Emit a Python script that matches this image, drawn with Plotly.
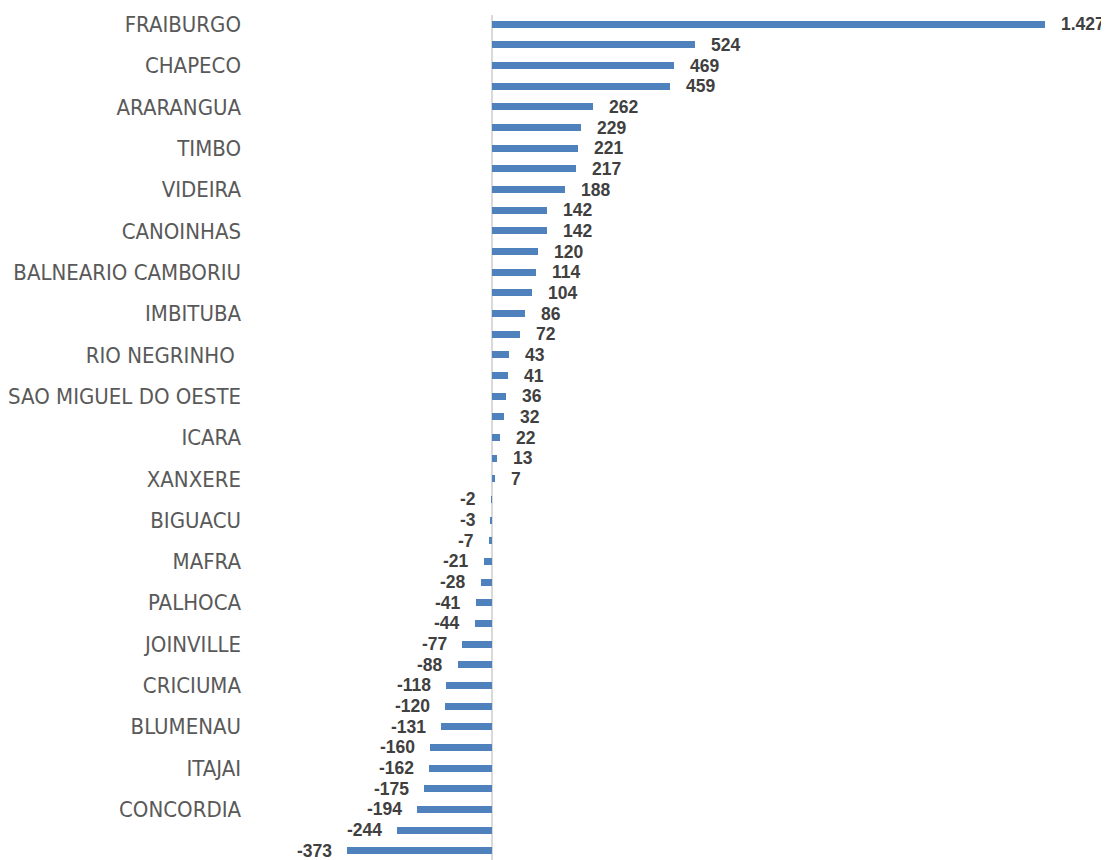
import plotly.graph_objects as go

# Values for each bar, top to bottom
values = [1427, 524, 469, 459, 262, 229, 221, 217, 188, 142, 142, 120, 114, 104,
          86, 72, 43, 41, 36, 32, 22, 13, 7, -2, -3, -7, -21, -28, -41, -44,
          -77, -88, -118, -120, -131, -160, -162, -175, -194, -244, -373]

# Category labels visible on the axis (every other bar is labelled)
shown_labels = ["FRAIBURGO", "CHAPECO", "ARARANGUA", "TIMBO", "VIDEIRA",
                "CANOINHAS", "BALNEARIO CAMBORIU", "IMBITUBA", "RIO NEGRINHO ",
                "SAO MIGUEL DO OESTE", "ICARA", "XANXERE", "BIGUACU", "MAFRA",
                "PALHOCA", "JOINVILLE", "CRICIUMA", "BLUMENAU", "ITAJAI",
                "CONCORDIA", "JARAGUA DO SUL"]

positions = list(range(len(values)))
label_positions = positions[::2]

CAT_FONT = "DejaVu Sans Condensed, Liberation Sans, Arial, sans-serif"
VAL_FONT = "Liberation Sans, Arial, sans-serif"
BAR_COLOR = "#4F81BD"


def fmt(v):
    return f"{v:,}".replace(",", ".")


fig = go.Figure()
fig.add_trace(go.Bar(
    x=values,
    y=positions,
    orientation="h",
    width=0.34,
    marker=dict(color=BAR_COLOR, line=dict(width=0)),
    hoverinfo="x",
))

for p, v in zip(positions, values):
    fig.add_annotation(
        x=v, y=p, xref="x", yref="y",
        text=f"<b>{fmt(v)}</b>",
        showarrow=False,
        xanchor="left" if v >= 0 else "right",
        xshift=15 if v >= 0 else -14,
        yshift=0,
        borderpad=0,
        font=dict(family=VAL_FONT, size=17.5, color="#404040"),
    )

# page body has an 8px default margin, so the figure is sized to fit the window
fig.update_layout(
    width=1101, height=852,
    margin=dict(l=242, r=9, t=7, b=0),
    paper_bgcolor="white", plot_bgcolor="white",
    showlegend=False,
    bargap=0,
)
fig.update_xaxes(
    range=[-624, 1569],
    showgrid=False, showticklabels=False, ticks="",
    zeroline=True, zerolinecolor="#d9d9d9", zerolinewidth=1.5,
    showline=False,
)
fig.update_yaxes(
    range=[40.45, -0.45],
    tickmode="array", tickvals=label_positions, ticktext=shown_labels,
    showgrid=False, zeroline=False, showline=False, ticks="",
    ticklabelstandoff=8,
    tickfont=dict(family=CAT_FONT, size=22, color="#595959"),
)

fig.write_html("out.html")
